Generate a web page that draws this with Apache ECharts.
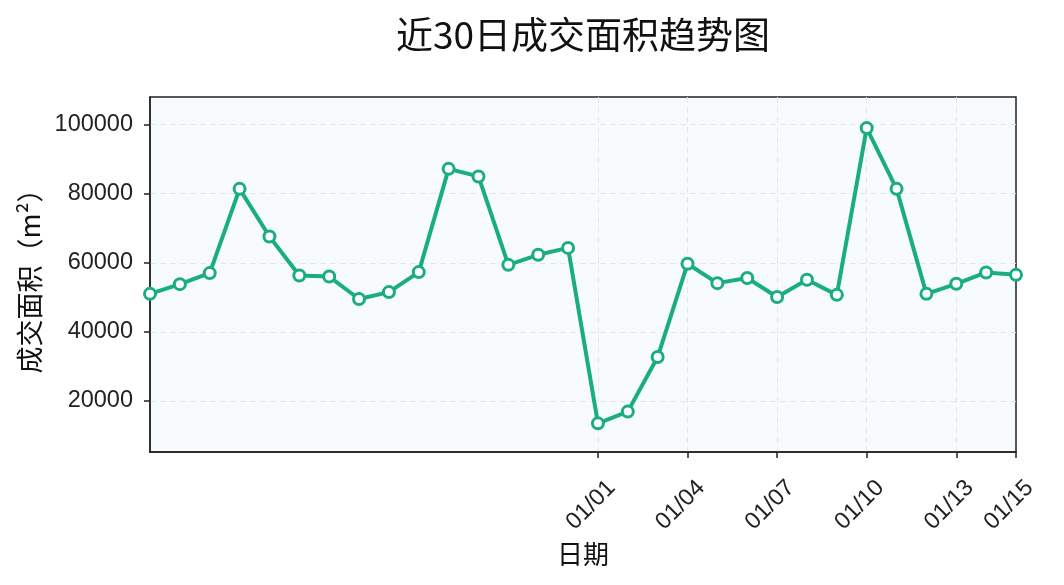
<!DOCTYPE html>
<html>
<head>
<meta charset="utf-8">
<script src="https://cdn.jsdelivr.net/npm/echarts@6/dist/echarts.min.js"></script>
<style>html,body{margin:0;padding:0;background:#fff;}#c{width:1064px;height:585px;}</style>
</head>
<body>
<div id="c"></div>
<script>
const dates = ['12/17','12/18','12/19','12/20','12/21','12/22','12/23','12/24','12/25','12/26','12/27','12/28','12/29','12/30','12/31',
  '01/01','01/02','01/03','01/04','01/05','01/06','01/07','01/08','01/09','01/10','01/11','01/12','01/13','01/14','01/15'];
const areaValues = [51000, 53800, 57000, 81400, 67600, 56300, 56000, 49500, 51500, 57300,
  87200, 85000, 59400, 62300, 64300, 13500, 16900, 32700, 59700, 54100,
  55600, 50100, 55100, 50700, 99000, 81400, 51000, 53900, 57200, 56500];
const xTickLabels = ['01/01','01/04','01/07','01/10','01/13','01/15'];
const yTickValues = [20000, 40000, 60000, 80000, 100000];

const showX = (i, v) => xTickLabels.indexOf(dates[i]) >= 0;
const showXGrid = (i, v) => showX(i, v) && i < dates.length - 1;
const chart = echarts.init(document.getElementById('c'), null, {renderer: 'canvas'});
chart.setOption({
  animation: false,
  backgroundColor: '#ffffff',
  title: {
    text: '近30日成交面积趋势图',
    left: 391, top: 11,
    textStyle: {fontFamily: 'Noto Sans CJK SC', fontSize: 37, fontWeight: 'normal', color: '#111'}
  },
  grid: {
    left: 150, right: 48, top: 97, bottom: 133,
    show: true, backgroundColor: '#f8fbfd', borderColor: '#222', borderWidth: 1.5
  },
  xAxis: {
    type: 'category',
    data: dates,
    boundaryGap: false,
    name: '日期',
    nameLocation: 'middle',
    nameGap: 86,
    nameTextStyle: {fontFamily: 'Noto Sans CJK SC', fontSize: 26, color: '#111'},
    axisLine: {lineStyle: {color: '#222', width: 1.5}},
    axisTick: {show: true, interval: showX, length: 6, lineStyle: {color: '#222', width: 1.5}},
    axisLabel: {
      interval: showX, rotate: 45, align: 'center', verticalAlign: 'middle', margin: 46,
      padding: [0, 20, 0, 0],
      fontFamily: 'Liberation Sans', fontSize: 23.5, color: '#222'
    },
    splitLine: {show: true, interval: showXGrid, lineStyle: {color: '#e3e6ea', type: [6, 4], width: 1}}
  },
  yAxis: {
    type: 'value',
    min: 5200, max: 108000,
    name: '成交面积（m²）',
    nameLocation: 'middle',
    nameRotate: 90,
    nameGap: 102,
    nameTextStyle: {fontFamily: 'Noto Sans CJK SC', fontSize: 27, color: '#111'},
    axisLine: {show: true, lineStyle: {color: '#222', width: 1.5}},
    axisTick: {show: true, customValues: yTickValues, length: 6, lineStyle: {color: '#222', width: 1.5}},
    axisLabel: {
      customValues: yTickValues, margin: 17,
      formatter: v => String(v),
      fontFamily: 'Liberation Sans', fontSize: 23.5, color: '#222'
    },
    splitLine: {show: true, lineStyle: {color: '#e3e6ea', type: [6, 4], width: 1}}
  },
  series: [{
    type: 'line',
    data: areaValues,
    symbol: 'circle',
    symbolSize: 11,
    showAllSymbol: true,
    lineStyle: {color: '#1aae7f', width: 4},
    itemStyle: {color: '#ffffff', borderColor: '#1aae7f', borderWidth: 3},
    z: 3
  }]
});
</script>
</body>
</html>
